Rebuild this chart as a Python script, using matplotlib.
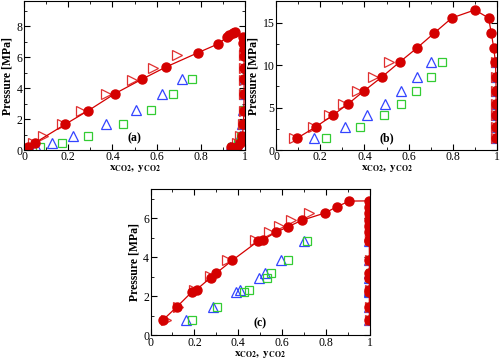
import numpy as np
import matplotlib
matplotlib.use('Agg')
import matplotlib.pyplot as plt
from matplotlib.ticker import MultipleLocator

plt.rcParams['font.family'] = 'Liberation Serif'
plt.rcParams['mathtext.fontset'] = 'stix'

# ---- panel (a) ----
a_circ_x = [0.02, 0.05, 0.186, 0.291, 0.412, 0.533, 0.643, 0.789, 0.879, 0.917, 0.929, 0.944, 0.957,
            0.99, 0.993, 0.995, 0.996, 0.996, 0.996, 0.996, 0.995, 0.993, 0.988, 0.977, 0.962, 0.935]
a_circ_p = [0.21, 0.47, 1.66, 2.55, 3.65, 4.57, 5.37, 6.30, 6.86, 7.28, 7.43, 7.58, 7.62,
            7.30, 6.90, 6.50, 6.10, 5.30, 4.57, 3.65, 2.55, 1.66, 0.90, 0.47, 0.21, 0.18]
a_tri_x = [0.04, 0.085, 0.17, 0.26, 0.371, 0.487, 0.582, 0.691,
           0.996, 0.996, 0.996, 0.996, 0.994, 0.99, 0.978, 0.962]
a_tri_p = [0.47, 0.92, 1.66, 2.55, 3.62, 4.55, 5.31, 6.11,
           6.11, 5.31, 4.55, 3.62, 2.55, 1.66, 0.92, 0.47]
a_blue_x = [0.054, 0.125, 0.22, 0.371, 0.507, 0.623, 0.713,
            0.93, 0.962, 0.977, 0.988, 0.993, 0.995, 0.996]
a_blue_p = [0.21, 0.47, 0.89, 1.66, 2.59, 3.62, 4.6,
            0.21, 0.47, 0.89, 1.66, 2.59, 3.62, 4.6]
a_green_x = [0.072, 0.17, 0.291, 0.449, 0.573, 0.676, 0.759,
             0.94, 0.968, 0.98, 0.99, 0.995, 0.997, 0.998]
a_green_p = [0.21, 0.47, 0.89, 1.66, 2.59, 3.62, 4.6,
             0.21, 0.47, 0.89, 1.66, 2.59, 3.62, 4.6]

# ---- panel (b) ----
b_circ_x = [0.094, 0.18, 0.257, 0.328, 0.396, 0.479, 0.559, 0.637, 0.717, 0.796, 0.90,
            0.962, 0.974, 0.985, 0.993, 0.995, 0.996, 0.996, 0.996, 0.996, 0.996]
b_circ_p = [1.37, 2.73, 4.1, 5.47, 6.92, 8.6, 10.35, 12.0, 13.8, 15.56, 16.5,
            15.55, 13.8, 12.05, 10.35, 8.6, 6.92, 5.47, 4.1, 2.73, 1.37]
b_tri_x = [0.083, 0.166, 0.242, 0.305, 0.368, 0.438, 0.512,
           0.997, 0.997, 0.997, 0.997, 0.997, 0.997, 0.997]
b_tri_p = [1.37, 2.73, 4.1, 5.47, 6.92, 8.6, 10.35,
           1.37, 2.73, 4.1, 5.47, 6.92, 8.6, 10.35]
b_blue_x = [0.174, 0.31, 0.411, 0.494, 0.566, 0.64, 0.70,
            0.994, 0.994, 0.994, 0.994, 0.994, 0.994, 0.994]
b_blue_p = [1.37, 2.73, 4.1, 5.47, 6.92, 8.6, 10.35,
            1.37, 2.73, 4.1, 5.47, 6.92, 8.6, 10.35]
b_green_x = [0.227, 0.378, 0.49, 0.566, 0.633, 0.70, 0.75,
             0.998, 0.998, 0.998, 0.998, 0.998, 0.998, 0.998]
b_green_p = [1.37, 2.73, 4.1, 5.47, 6.92, 8.6, 10.35,
             1.37, 2.73, 4.1, 5.47, 6.92, 8.6, 10.35]

# ---- panel (c) ----
c_circ_x = [0.058, 0.121, 0.187, 0.21, 0.274, 0.298, 0.373, 0.491, 0.511, 0.571, 0.628, 0.689,
            0.795, 0.851, 0.906,
            0.997, 0.997, 0.997, 0.997, 0.997, 0.997, 0.997, 0.997, 0.997, 0.997, 0.997, 0.997,
            0.997, 0.997, 0.997]
c_circ_p = [0.8, 1.47, 2.21, 2.35, 2.96, 3.18, 3.85, 4.84, 4.9, 5.28, 5.58, 5.9,
            6.28, 6.61, 6.89,
            6.9, 6.6, 6.3, 5.9, 5.6, 5.3, 4.9, 4.84, 3.85, 3.18, 2.96, 2.35, 2.21, 1.47, 0.8]
c_tri_x = [0.07, 0.125, 0.2, 0.272, 0.35, 0.476, 0.541, 0.587, 0.64, 0.723,
           0.998, 0.998, 0.998, 0.998, 0.998, 0.998, 0.998, 0.998, 0.998, 0.998]
c_tri_p = [0.8, 1.47, 2.3, 3.05, 3.87, 4.88, 5.32, 5.62, 5.9, 6.3,
           0.8, 1.47, 2.3, 3.05, 3.87, 4.88, 5.32, 5.62, 5.9, 6.3]
c_blue_x = [0.164, 0.287, 0.39, 0.408, 0.495, 0.52, 0.594, 0.698,
            0.995, 0.995, 0.995, 0.995, 0.995, 0.995, 0.995, 0.995]
c_blue_p = [0.8, 1.47, 2.21, 2.35, 2.96, 3.18, 3.84, 4.84,
            0.8, 1.47, 2.21, 2.35, 2.96, 3.18, 3.84, 4.84]
c_green_x = [0.187, 0.305, 0.425, 0.45, 0.53, 0.548, 0.627, 0.715,
             0.998, 0.998, 0.998, 0.998, 0.998, 0.998, 0.998, 0.998]
c_green_p = [0.8, 1.47, 2.21, 2.35, 2.96, 3.18, 3.84, 4.84,
             0.8, 1.47, 2.21, 2.35, 2.96, 3.18, 3.84, 4.84]

RED = '#d40000'


def draw_panel(ax, cx, cp, tx, tp, bx, bp, gx, gp, ymax, ymajor, yminor, tag):
    ax.plot(bx, bp, ls='none', marker='^', ms=7, mfc='none', mec='#3344ff', mew=0.9)
    ax.plot(gx, gp, ls='none', marker='s', ms=5.5, mfc='none', mec='#33cc33', mew=0.9)
    ax.plot(tx, tp, ls='none', marker='>', ms=7, mfc='none', mec='#e03030', mew=0.9)
    ax.plot(cx, cp, color=RED, lw=0.9, marker='o', ms=6.5, mfc=RED, mec=RED)
    ax.set_xlim(0, 1)
    ax.set_ylim(0, ymax)
    ax.xaxis.set_major_locator(MultipleLocator(0.2))
    ax.xaxis.set_minor_locator(MultipleLocator(0.1))
    ax.yaxis.set_major_locator(MultipleLocator(ymajor))
    ax.yaxis.set_minor_locator(MultipleLocator(yminor))
    ax.xaxis.set_major_formatter(plt.FuncFormatter(lambda v, p: '%g' % round(v, 2)))
    ax.tick_params(which='both', direction='in', top=True, right=True, labelsize=8.5, pad=1)
    ax.tick_params(which='major', length=4)
    ax.tick_params(which='minor', length=2)
    ax.set_xlabel(r'$\mathbf{x_{CO2},\ y_{CO2}}$', fontsize=8, labelpad=0)
    ax.set_ylabel('Pressure [MPa]', fontsize=8.5, fontweight='bold', labelpad=2)
    ax.text(0.5, 0.06, tag, transform=ax.transAxes, ha='center', fontsize=8.5, fontweight='bold')


fig = plt.figure(figsize=(5.0, 3.59), dpi=100)
ax1 = fig.add_axes([0.048, 0.582, 0.442, 0.414])
ax2 = fig.add_axes([0.552, 0.582, 0.442, 0.414])
ax3 = fig.add_axes([0.301, 0.066, 0.439, 0.407])

draw_panel(ax1, a_circ_x, a_circ_p, a_tri_x, a_tri_p, a_blue_x, a_blue_p, a_green_x, a_green_p, 9.6, 2, 1, '(a)')
draw_panel(ax2, b_circ_x, b_circ_p, b_tri_x, b_tri_p, b_blue_x, b_blue_p, b_green_x, b_green_p, 17.5, 5, 2.5, '(b)')
draw_panel(ax3, c_circ_x, c_circ_p, c_tri_x, c_tri_p, c_blue_x, c_blue_p, c_green_x, c_green_p, 7.5, 2, 1, '(c)')

fig.savefig('out.png', dpi=100)
